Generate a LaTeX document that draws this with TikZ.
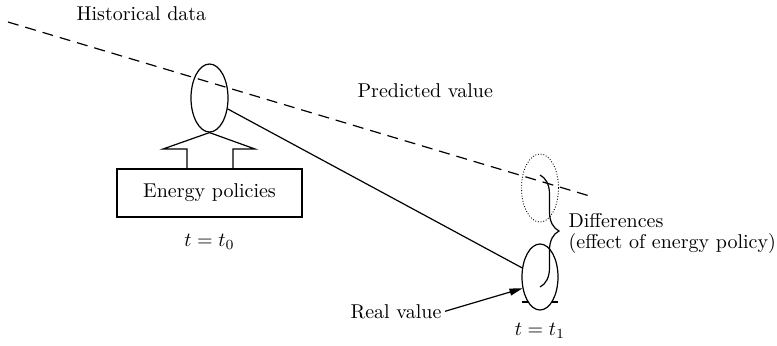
\documentclass[tikz,border=0pt]{standalone}
\usetikzlibrary{shapes.geometric,decorations.pathreplacing,arrows.meta}
\begin{document}
\begin{tikzpicture}[x=0.5pt,y=-0.5pt,
  line width=0.6pt,
  oval/.style={draw,ellipse,inner sep=0pt,line width=0.6pt},
  lbl/.style={inner sep=0pt,font=\fontsize{10pt}{12pt}\selectfont},
  histline/.style={dash pattern=on 5.5pt off 3.5pt,line width=0.6pt}]
\useasboundingbox (0,0) rectangle (777,345);
% historical / predicted trend
\coordinate (hs) at (8,22);
\coordinate (he) at (593,197);
\draw[histline] (hs) -- (he);
% ellipses
\node[oval,minimum width=18.5pt,minimum height=34pt] (e1) at (209.5,98) {};
\node[oval,minimum width=18pt,minimum height=33pt] (e2) at (540,277) {};
\node[draw,ellipse,inner sep=0pt,line width=0.45pt,dash pattern=on 0.45pt off 0.9pt,
      minimum width=18.5pt,minimum height=34pt] (ed) at (540,188) {};
% energy policies box and arrow shape
\node[draw,lbl,minimum width=92.5pt,minimum height=24pt] (ep) at (209.5,193) {Energy policies};
\draw[line join=miter] (187,169) -- (187,149) -- (163,149) -- (e1.south) -- (255,149) -- (233,149) -- (233,169);
% real line
\draw (e1.-31) -- (e2.153);
% ticks at bottom of lower ellipse
\draw (522,302) -- (528,302) (552,302) -- (558,302);
% brace
\coordinate (bt) at (540,175);
\coordinate (bb) at (540,287);
\draw[decorate,decoration={brace,amplitude=9.5pt}] (bt) -- (bb);
% labels
\node[lbl,anchor=base west] (hd) at (76,20) {Historical data};
\node[lbl,anchor=base west] (pv) at (357,97) {Predicted value};
\node[lbl,anchor=base] (t0) at (209.5,246) {$t=t_0$};
\node[lbl,anchor=base] (t1) at (540,335) {$t=t_1$};
\node[lbl,anchor=base west] (d1) at (568,227) {Differences};
\node[lbl,anchor=base west] (d2) at (568,248) {(effect of energy policy)};
\node[lbl,anchor=base east,inner sep=1.5pt] (rv) at (445,318) {Real value};
\draw[-{Triangle[length=6.5pt,width=3.5pt]}] (rv.east) -- (e2.213);
\end{tikzpicture}
\end{document}
